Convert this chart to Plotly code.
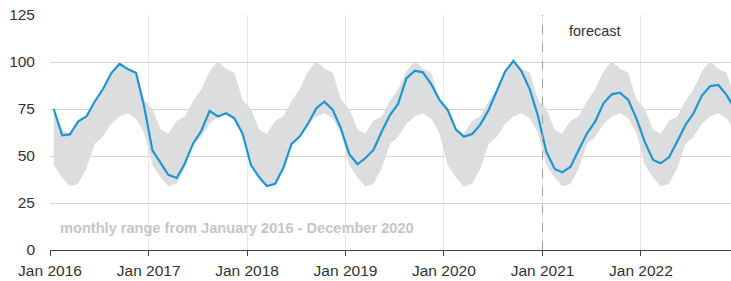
import plotly.graph_objects as go
import pandas as pd

# Monthly values, Jan 2016 - Dec 2022
values = [
    75, 61, 61.5, 68.5, 71, 79, 85.5, 94, 99, 96.3, 94.3, 76.5,          # 2016
    53, 46, 40, 38.3, 46, 56.7, 63.3, 74, 71, 72.7, 70, 62,              # 2017
    45.3, 38.7, 34, 35.2, 43.5, 56.4, 60.3, 67.2, 75.4, 78.9, 74.5, 64.7,  # 2018
    51, 45.6, 48.8, 53.2, 62.9, 71.8, 77.7, 91.3, 95.4, 94.5, 88.3, 80,  # 2019
    74.5, 64, 60.3, 61.7, 66.7, 74.5, 84.2, 94.9, 100.6, 95, 85.3, 71.3,  # 2020
    52.3, 43.1, 41.3, 44.3, 53.2, 62.1, 68.3, 78, 82.8, 83.7, 79.8, 70,  # 2021
    57.6, 47.9, 46.1, 49.3, 57.6, 66.5, 72.7, 82.1, 87.2, 87.8, 82.4, 75,  # 2022
]
# Monthly range (Jan..Dec) from January 2016 - December 2020
range_low = [45.2, 38.5, 33.8, 35.2, 43.4, 56.4, 60.3, 67.2, 71, 72.7, 70, 62.3]
range_high = [75, 64, 61.8, 68.7, 71, 79.2, 85.5, 94.9, 100.5, 96.4, 94.3, 80]
years = [2016, 2017, 2018, 2019, 2020, 2021, 2022]
tick_labels = ["Jan %d" % y for y in years]
y_ticks = [0, 25, 50, 75, 100, 125]

dates = [pd.Timestamp(year=y, month=m, day=15) for y in years for m in range(1, 13)]
band_low = [range_low[d.month - 1] for d in dates]
band_high = [range_high[d.month - 1] for d in dates]

FONT = "Liberation Sans, Arial, sans-serif"

fig = go.Figure()
fig.add_trace(go.Scatter(x=dates, y=band_low, mode="lines", line=dict(width=0, color="rgba(0,0,0,0)"),
                         hoverinfo="skip", showlegend=False))
fig.add_trace(go.Scatter(x=dates, y=band_high, mode="lines", line=dict(width=0, color="rgba(0,0,0,0)"),
                         fill="tonexty", fillcolor="#dcddde", hoverinfo="skip", showlegend=False))
fig.add_trace(go.Scatter(x=dates, y=values, mode="lines", line=dict(color="#1f96d4", width=2.2),
                         showlegend=False))

fig.add_shape(type="line", xref="x", yref="paper", x0="2021-01-01", x1="2021-01-01", y0=0, y1=1,
              line=dict(color="#a0a0a0", width=1, dash="dash"))
fig.add_annotation(x="2021-07-15", y=1, xref="x", yref="paper", yanchor="middle", yshift=-16,
                   text="forecast", showarrow=False,
                   font=dict(family=FONT, size=14.5, color="#333333"))
fig.add_annotation(x="2016-01-01", y=11.8, xref="x", yref="y", xanchor="left", yanchor="middle", xshift=8,
                   text="<b>monthly range from January 2016 - December 2020</b>",
                   showarrow=False, font=dict(family=FONT, size=14.6, color="#c6c6c6"))

fig.update_layout(
    width=731, height=281,
    margin=dict(l=50, r=0, t=15, b=31),
    paper_bgcolor="white", plot_bgcolor="white",
    font=dict(family=FONT, size=15.5, color="#333333"),
    xaxis=dict(range=["2016-01-01", "2022-12-01"], tickvals=[pd.Timestamp(year=y, month=1, day=1) for y in years],
               ticktext=tick_labels, showgrid=True, gridcolor="#e6e6e6", gridwidth=1,
               showline=True, linecolor="#444444", linewidth=1.2, ticks="outside", ticklen=5,
               tickcolor="#444444", zeroline=False, ticklabelstandoff=1),
    yaxis=dict(range=[0, 125], tickvals=y_ticks, showgrid=True, gridcolor="#d4d4d4", gridwidth=1,
               zeroline=False, showline=False, ticks="", ticklabelstandoff=14),
)

fig.write_html("out.html", config={"displayModeBar": False},
               post_script="document.body.style.margin='0px';document.body.style.overflow='hidden';")
